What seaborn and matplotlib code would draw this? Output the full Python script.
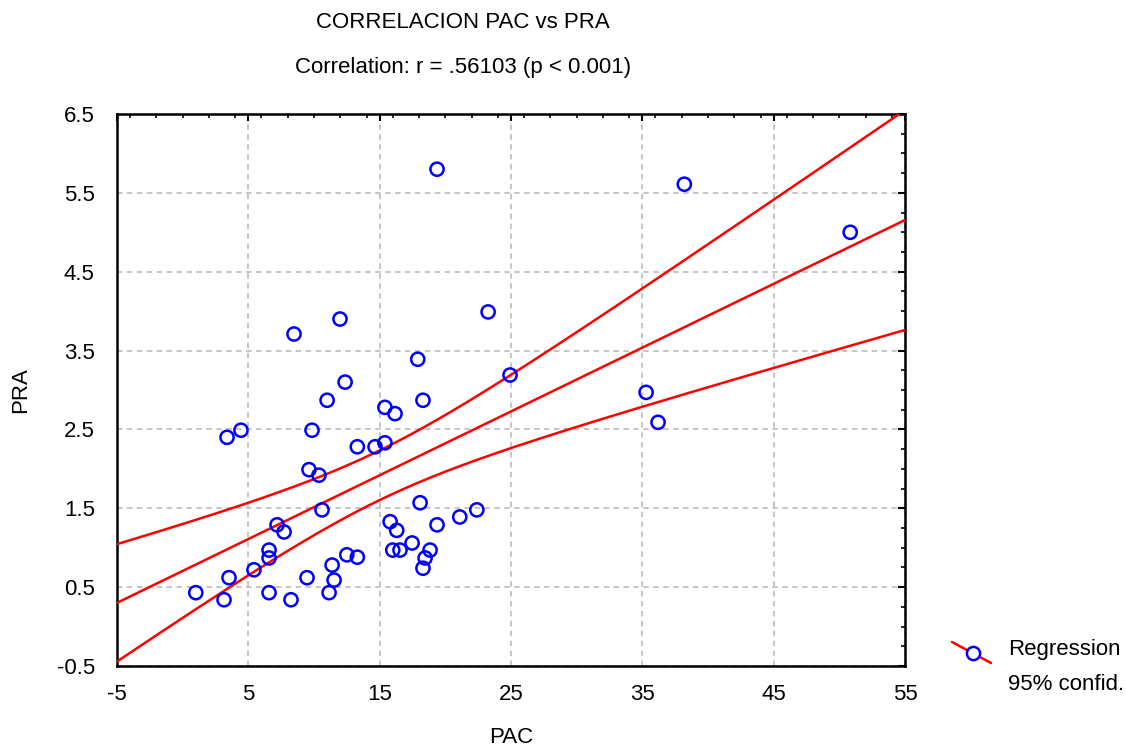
import numpy as np
import pandas as pd
import matplotlib
matplotlib.use('Agg')
import matplotlib.pyplot as plt
from matplotlib.lines import Line2D
from matplotlib.ticker import MultipleLocator
import seaborn as sns

# ── Data ─────────────────────────────────────────────────────
pac = [1.0, 3.15, 3.53, 3.38, 4.44, 5.43, 6.58, 6.58, 6.58, 7.19,
       7.72, 8.25, 8.48, 9.47, 9.62, 9.85, 10.38, 10.61, 11.0, 11.15,
       11.53, 11.38, 11.98, 12.37, 12.5, 13.3, 13.3, 14.65, 15.4, 15.4,
       15.8, 16.17, 16.0, 16.3, 16.55, 17.47, 17.9, 18.08, 18.3, 18.3,
       18.46, 18.84, 19.37, 19.37, 21.1, 22.4, 23.26, 24.93, 35.29, 36.2,
       38.2, 50.83]
pra = [0.43, 0.34, 0.62, 2.40, 2.49, 0.72, 0.43, 0.87, 0.97, 1.29,
       1.20, 0.34, 3.71, 0.62, 1.99, 2.49, 1.92, 1.48, 2.87, 0.43,
       0.59, 0.78, 3.90, 3.10, 0.91, 0.88, 2.28, 2.28, 2.33, 2.78,
       1.33, 2.70, 0.97, 1.22, 0.97, 1.06, 3.39, 1.57, 2.87, 0.74,
       0.87, 0.97, 5.80, 1.29, 1.39, 1.48, 3.99, 3.19, 2.97, 2.59,
       5.61, 5.00]
x_ticks = [-5, 5, 15, 25, 35, 45, 55]
y_ticks = [-0.5, 0.5, 1.5, 2.5, 3.5, 4.5, 5.5, 6.5]

df = pd.DataFrame({'PAC': pac, 'PRA': pra})

# ── Regression + 95% confidence band of the mean ─────────────
x = df['PAC'].to_numpy(); y = df['PRA'].to_numpy()
n = len(x)
b1, b0 = np.polyfit(x, y, 1)
resid = y - (b0 + b1 * x)
s = np.sqrt((resid ** 2).sum() / (n - 2))
sxx = ((x - x.mean()) ** 2).sum()
t = 2.0086  # t(0.975, 50)
xs = np.linspace(-5, 55, 200)
yhat = b0 + b1 * xs
half = t * s * np.sqrt(1 / n + (xs - x.mean()) ** 2 / sxx)
fit = pd.DataFrame({'x': xs, 'y': yhat, 'lo': yhat - half, 'hi': yhat + half})

RED = '#ff0000'
BLUE = '#0000ff'
GRID = '#c0c0c0'

sns.set_style('white')
plt.rcParams['font.family'] = ['Liberation Sans', 'DejaVu Sans']
plt.rcParams.update({'text.color': 'black', 'axes.labelcolor': 'black',
                     'xtick.color': 'black', 'ytick.color': 'black'})

fig = plt.figure(figsize=(11.26, 7.5), dpi=100)
ax = fig.add_axes([0.1039, 0.112, 0.6998, 0.736])

ax.grid(True, which='major', color=GRID, linestyle=(0, (3, 2.5)), linewidth=1.3)
ax.set_axisbelow(True)

for col in ['y', 'lo', 'hi']:
    sns.lineplot(data=fit, x='x', y=col, ax=ax, color=RED, linewidth=1.8, zorder=3)
sns.scatterplot(data=df, x='PAC', y='PRA', ax=ax, marker='o', s=90,
                facecolors='none', edgecolor=BLUE, linewidth=1.8, zorder=4)

ax.set_xlim(-5, 55); ax.set_ylim(-0.5, 6.5)
ax.set_xticks(x_ticks); ax.set_yticks(y_ticks)
ax.set_xticklabels([str(v) for v in x_ticks])
ax.set_yticklabels([f'{v:.1f}' for v in y_ticks])
ax.xaxis.set_minor_locator(MultipleLocator(2))
ax.yaxis.set_minor_locator(MultipleLocator(0.25))
ax.tick_params(which='both', direction='in', top=True, right=True,
               color='black', labelcolor='black')
ax.tick_params(which='major', length=5, width=1.5, labelsize=16)
ax.tick_params(axis='y', which='major', pad=16)
ax.tick_params(axis='x', which='major', pad=13)
ax.tick_params(which='minor', length=3, width=1.2)
for sp in ax.spines.values():
    sp.set_edgecolor('black'); sp.set_linewidth(1.8)

ax.set_xlabel('PAC', fontsize=16, labelpad=15.5, color='black')
ax.set_ylabel('PRA', fontsize=16, labelpad=18.5, color='black')

fig.text(0.411, 1 - 22 / 750, 'CORRELACION PAC vs PRA', ha='center', va='center',
         fontsize=16, color='black')
fig.text(0.411, 1 - 67 / 750, 'Correlation: r = .56103 (p < 0.001)', ha='center',
         va='center', fontsize=16, color='black')

# legend drawn in figure coordinates (diagonal line with marker)
fig.add_artist(Line2D([952 / 1126, 991 / 1126], [1 - 642 / 750, 1 - 663 / 750],
                      color=RED, linewidth=1.8))
fig.add_artist(Line2D([973 / 1126], [1 - 653 / 750], marker='o', markersize=9.5,
                      markerfacecolor='white', markeredgecolor=BLUE, markeredgewidth=1.8))
fig.text(1008 / 1126, 1 - 650 / 750, 'Regression', ha='left', va='center',
         fontsize=16, color='black')
fig.text(1008 / 1126, 1 - 684 / 750, '95% confid.', ha='left', va='center',
         fontsize=16, color='black')

fig.savefig('out.png', dpi=100, facecolor='white')
